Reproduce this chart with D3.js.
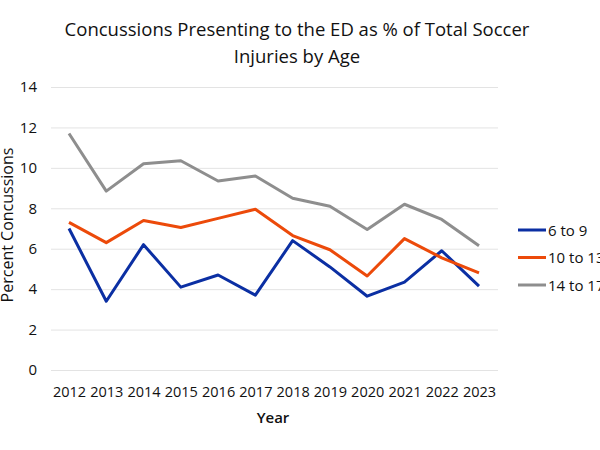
<!DOCTYPE html>
<html lang="en">
<head>
  <meta charset="UTF-8">
  <title>Concussions by Age</title>
  <script src="https://d3js.org/d3.v7.min.js"></script>
  <style>
    body { margin: 0; background: #fff; }
    svg text { font-family: "Open Sans", "Noto Sans", sans-serif; fill: #111; }
    .grid line { stroke: #e3e3e3; stroke-width: 1; }
    .grid path { stroke-width: 0; }
  </style>
</head>
<body>
  <svg id="chart" width="600" height="450"></svg>
  <script>
    const years = ["2012","2013","2014","2015","2016","2017","2018","2019","2020","2021","2022","2023"];
    const age6to9 = [7.0, 3.4, 6.2, 4.1, 4.7, 3.7, 6.4, 5.1, 3.65, 4.35, 5.9, 4.15];
    const age10to13 = [7.3, 6.3, 7.4, 7.05, 7.5, 7.95, 6.65, 5.95, 4.65, 6.5, 5.55, 4.8];
    const age14to17 = [11.7, 8.85, 10.2, 10.35, 9.35, 9.6, 8.5, 8.1, 6.95, 8.2, 7.45, 6.15];
    const seriesNames = ["6 to 9", "10 to 13", "14 to 17"];
    const seriesColors = ["#0b2fa3", "#ec4a0a", "#8e8e8e"];
    const yTicks = [0, 2, 4, 6, 8, 10, 12, 14];

    const svg = d3.select("#chart");
    const series = [age6to9, age10to13, age14to17];

    const x = d3.scalePoint()
      .domain(years)
      .range([69, 479]);

    const y = d3.scaleLinear()
      .domain([0, 14])
      .range([370, 87]);

    // title
    svg.append("text")
      .attr("x", 297).attr("y", 36)
      .attr("text-anchor", "middle")
      .attr("font-size", "18.5px")
      .text("Concussions Presenting to the ED as % of Total Soccer");
    svg.append("text")
      .attr("x", 297).attr("y", 63)
      .attr("text-anchor", "middle")
      .attr("font-size", "18.5px")
      .text("Injuries by Age");

    // gridlines
    svg.append("g")
      .attr("class", "grid")
      .attr("transform", "translate(51,0)")
      .call(d3.axisLeft(y).tickValues(yTicks).tickSize(-447).tickFormat(""));

    // y labels
    const yAxis = svg.append("g")
      .attr("transform", "translate(37,0)")
      .call(d3.axisLeft(y).tickValues(yTicks).tickSize(0).tickPadding(0));
    yAxis.select(".domain").remove();
    yAxis.selectAll("text").attr("font-size", "15px").style("font-family", "'Open Sans', sans-serif").attr("fill", "#111");

    // x labels
    const xAxis = svg.append("g")
      .attr("transform", "translate(0,387)")
      .call(d3.axisBottom(x).tickSize(0).tickPadding(0));
    xAxis.select(".domain").remove();
    xAxis.selectAll("text").attr("font-size", "14.5px").style("font-family", "'Open Sans', sans-serif").attr("fill", "#111");

    // axis titles
    svg.append("text")
      .attr("x", 273).attr("y", 423)
      .attr("text-anchor", "middle")
      .attr("font-size", "15px")
      .attr("font-weight", "600")
      .text("Year");
    svg.append("text")
      .attr("transform", "translate(13,225) rotate(-90)")
      .attr("text-anchor", "middle")
      .attr("font-size", "16px")
      .text("Percent Concussions");

    // lines
    const line = d3.line()
      .x((d, i) => x(years[i]))
      .y(d => y(d));

    series.forEach((vals, k) => {
      svg.append("path")
        .datum(vals)
        .attr("fill", "none")
        .attr("stroke", seriesColors[k])
        .attr("stroke-width", 3)
        .attr("stroke-linejoin", "round")
        .attr("d", line);
    });

    // legend
    const legend = svg.append("g");
    seriesNames.forEach((name, k) => {
      const ly = 230 + k * 27.5;
      legend.append("line")
        .attr("x1", 518).attr("x2", 546)
        .attr("y1", ly).attr("y2", ly)
        .attr("stroke", seriesColors[k])
        .attr("stroke-width", 3);
      legend.append("text")
        .attr("x", 548).attr("y", ly + 5.5)
        .attr("font-size", "15px")
        .text(name);
    });
  </script>
</body>
</html>
